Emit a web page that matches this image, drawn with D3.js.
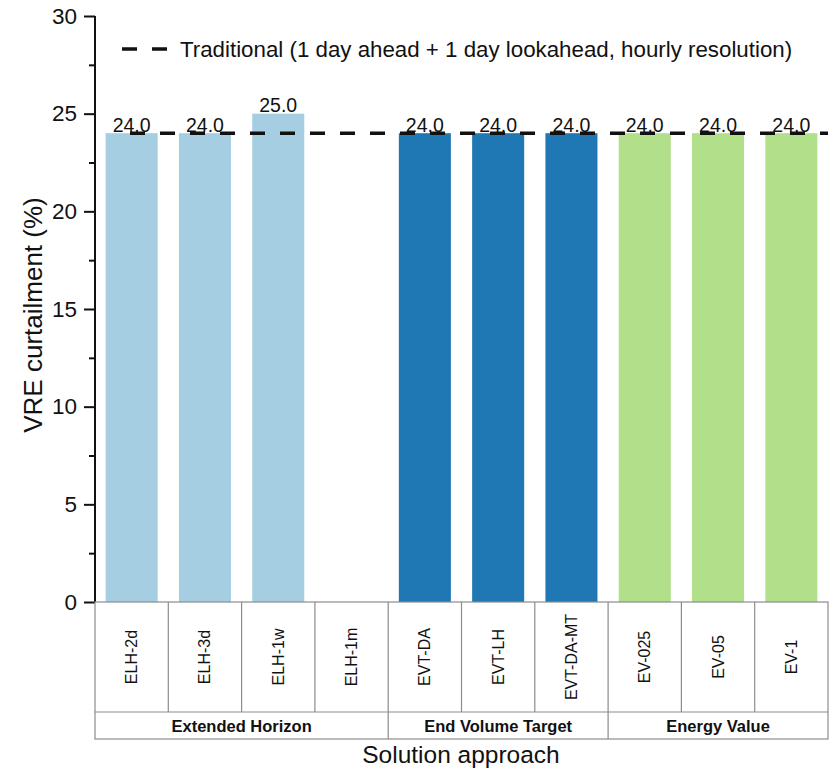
<!DOCTYPE html>
<html>
<head>
<meta charset="utf-8">
<script src="https://cdn.jsdelivr.net/npm/d3@7"></script>
<style>
  html, body { margin: 0; padding: 0; background: #fff; }
  svg { display: block; font-family: "Liberation Sans", Arial, sans-serif; }
</style>
</head>
<body>
<svg id="chart" width="833" height="771"></svg>
<script>
// Solution approaches and their VRE curtailment (%)
const categories = ["ELH-2d", "ELH-3d", "ELH-1w", "ELH-1m", "EVT-DA", "EVT-LH", "EVT-DA-MT", "EV-025", "EV-05", "EV-1"];
const curtailment = [24.0, 24.0, 25.0, null, 24.0, 24.0, 24.0, 24.0, 24.0, 24.0];
const groupOf = ["Extended Horizon", "Extended Horizon", "Extended Horizon", "Extended Horizon",
  "End Volume Target", "End Volume Target", "End Volume Target",
  "Energy Value", "Energy Value", "Energy Value"];
const groups = ["Extended Horizon", "End Volume Target", "Energy Value"];
const groupColors = ["#a6cee3", "#1f78b4", "#b2df8a"];
const traditional = 24.0;
const traditionalLabel = "Traditional (1 day ahead + 1 day lookahead, hourly resolution)";
const yTicks = [0, 5, 10, 15, 20, 25, 30];
const yMinorTicks = [2.5, 7.5, 12.5, 17.5, 22.5, 27.5];

const svg = d3.select("#chart");
const plotLeft = 95, plotRight = 828, plotTop = 16, plotBottom = 602;
const row1Bottom = 712, row2Bottom = 739;

const x = d3.scaleBand().domain(categories).range([plotLeft, plotRight]).paddingInner(0.29).paddingOuter(0.145);
const slot = d3.scaleBand().domain(categories).range([plotLeft, plotRight]);
const y = d3.scaleLinear().domain([0, 30]).range([plotBottom, plotTop]);
const color = d3.scaleOrdinal().domain(groups).range(groupColors);

// bars
const data = categories.map((c, i) => ({ cat: c, v: curtailment[i], g: groupOf[i] }));
svg.append("g").selectAll("rect")
  .data(data.filter(d => d.v != null))
  .join("rect")
  .attr("x", d => x(d.cat))
  .attr("width", x.bandwidth())
  .attr("y", d => y(d.v))
  .attr("height", d => y(0) - y(d.v))
  .attr("fill", d => color(d.g));

// value labels
svg.append("g").selectAll("text")
  .data(data.filter(d => d.v != null))
  .join("text")
  .attr("x", d => x(d.cat) + x.bandwidth() / 2)
  .attr("y", d => y(d.v) - 1.5)
  .attr("text-anchor", "middle")
  .attr("font-size", 19.5)
  .attr("fill", "#111")
  .text(d => d3.format(".1f")(d.v));

// reference line
svg.append("line")
  .attr("x1", 130).attr("x2", plotRight)
  .attr("y1", y(traditional)).attr("y2", y(traditional))
  .attr("stroke", "#111").attr("stroke-width", 3.5)
  .attr("stroke-dasharray", "15,15");

// legend
svg.append("line")
  .attr("x1", 122).attr("x2", 167).attr("y1", 49).attr("y2", 49)
  .attr("stroke", "#111").attr("stroke-width", 3.5)
  .attr("stroke-dasharray", "15,15");
svg.append("text")
  .attr("x", 180).attr("y", 57)
  .attr("font-size", 22.3)
  .attr("fill", "#111")
  .text(traditionalLabel);

// y axis
const yAxis = d3.axisLeft(y).tickValues(yTicks).tickSize(11).tickPadding(7);
const gy = svg.append("g").attr("transform", `translate(${plotLeft},0)`).call(yAxis);
gy.select(".domain").attr("stroke", "#111").attr("stroke-width", 2).attr("d", `M0,${plotTop}V${plotBottom}`);
gy.selectAll(".tick line").attr("stroke", "#111").attr("stroke-width", 2);
gy.selectAll(".tick text").attr("font-size", 22.5).attr("fill", "#111").attr("font-family", "Liberation Sans, Arial, sans-serif");
svg.append("g").attr("transform", `translate(${plotLeft},0)`)
  .call(d3.axisLeft(y).tickValues(yMinorTicks).tickSize(6).tickFormat(""))
  .call(g => g.select(".domain").remove())
  .selectAll(".tick line").attr("stroke", "#111").attr("stroke-width", 2);

svg.append("text")
  .attr("transform", `translate(42,315) rotate(-90)`)
  .attr("text-anchor", "middle")
  .attr("font-size", 26)
  .attr("fill", "#111")
  .text("VRE curtailment (%)");

// category table
const tbl = svg.append("g").attr("stroke", "#8c8c8c").attr("stroke-width", 1.2).attr("fill", "none");
tbl.append("rect").attr("x", plotLeft).attr("y", plotBottom).attr("width", plotRight - plotLeft).attr("height", row2Bottom - plotBottom);
tbl.append("line").attr("x1", plotLeft).attr("x2", plotRight).attr("y1", row1Bottom).attr("y2", row1Bottom);
tbl.selectAll(".cell").data(categories.slice(1)).join("line")
  .attr("x1", d => slot(d)).attr("x2", d => slot(d))
  .attr("y1", plotBottom)
  .attr("y2", (d, i) => groupOf[i + 1] !== groupOf[i] ? row2Bottom : row1Bottom);

svg.append("g").selectAll("text").data(categories).join("text")
  .attr("transform", d => `translate(${slot(d) + slot.bandwidth() / 2 + 5.5},${(plotBottom + row1Bottom) / 2}) rotate(-90)`)
  .attr("text-anchor", "middle")
  .attr("font-size", 16)
  .attr("fill", "#111")
  .text(d => d);

const groupSpans = groups.map(g => {
  const members = categories.filter((c, i) => groupOf[i] === g);
  return { g, x0: slot(members[0]), x1: slot(members[members.length - 1]) + slot.bandwidth() };
});
svg.append("g").selectAll("text").data(groupSpans).join("text")
  .attr("x", d => (d.x0 + d.x1) / 2)
  .attr("y", (row1Bottom + row2Bottom) / 2 + 6.5)
  .attr("text-anchor", "middle")
  .attr("font-size", 16.5)
  .attr("font-weight", "bold")
  .attr("fill", "#111")
  .text(d => d.g);

svg.append("text")
  .attr("x", 461).attr("y", 763)
  .attr("text-anchor", "middle")
  .attr("font-size", 24.5)
  .attr("fill", "#111")
  .text("Solution approach");
</script>
</body>
</html>
